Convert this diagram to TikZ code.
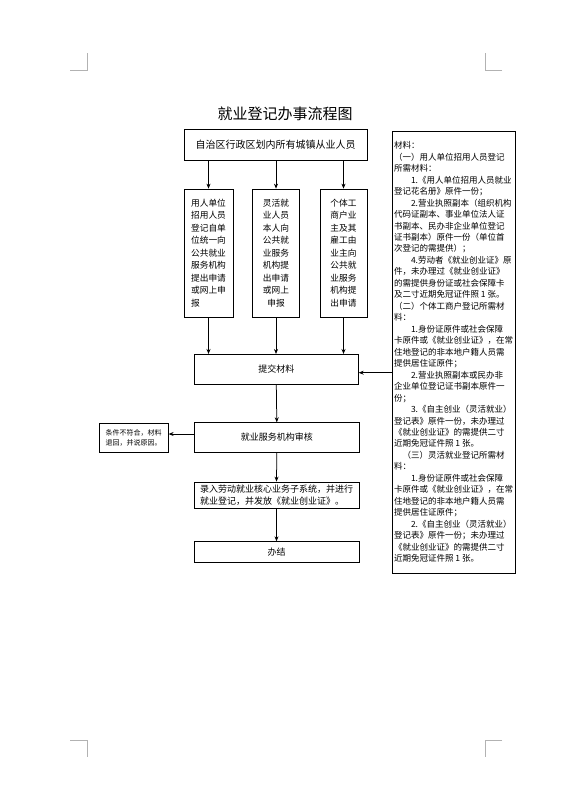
\documentclass[tikz,border=0pt]{standalone}
\usepackage{fontspec}
\setmainfont{Noto Sans CJK SC}
\usetikzlibrary{arrows.meta,calc}
\begin{document}
\begin{tikzpicture}[x=1pt,y=-1pt,
  box/.style={draw=black,line width=0.75pt,inner sep=0pt},
  arr/.style={-{Stealth[length=5pt,width=4pt]},line width=0.75pt},
  corner/.style={draw=black!30,line width=0.7pt}]
\useasboundingbox (0,0) rectangle (575,809);
\fill[white] (0,0) rectangle (575,809);
% corner marks
\draw[corner] (70,70) -- (87,70) -- (87,53);
\draw[corner] (502,70) -- (485,70) -- (485,53);
\draw[corner] (70,740) -- (87,740) -- (87,757);
\draw[corner] (502,740) -- (485,740) -- (485,757);
% title
\node[font=\fontsize{15}{18}\selectfont] (title) at (285,114) {就业登记办事流程图};
% top box
\node[box,minimum width=183pt,minimum height=31pt,font=\fontsize{10}{12}\selectfont] (top) at (275.5,144.5) {自治区行政区划内所有城镇从业人员};
% column boxes
\node[box,minimum width=49pt,minimum height=128pt,align=left,font=\fontsize{8.7}{12.5}\selectfont] (b1) at (208.5,253)
 {用人单位\\招用人员\\登记自单\\位统一向\\公共就业\\服务机构\\提出申请\\或网上申\\报};
\node[box,minimum width=47pt,minimum height=128pt,align=center,font=\fontsize{8.7}{12.5}\selectfont] (b2) at (276,253)
 {灵活就\\业人员\\本人向\\公共就\\业服务\\机构提\\出申请\\或网上\\申报};
\node[box,minimum width=47pt,minimum height=128pt,align=center,font=\fontsize{8.7}{12.5}\selectfont] (b3) at (343.5,253)
 {个体工\\商户业\\主及其\\雇工由\\业主向\\公共就\\业服务\\机构提\\出申请};
% process boxes
\node[box,minimum width=164pt,minimum height=29.7pt,font=\fontsize{9}{11}\selectfont] (submit) at (276.3,369.2) {提交材料};
\node[box,minimum width=165pt,minimum height=29.6pt,font=\fontsize{9}{11}\selectfont] (audit) at (276.8,437.5) {就业服务机构审核};
\node[box,minimum width=69.3pt,minimum height=29pt,align=left,font=\fontsize{7}{10.5}\selectfont] (note) at (133.6,437.8) {条件不符合，材料\\退回，并说原因。};
\node[box,minimum width=165pt,minimum height=26pt,align=left,font=\fontsize{9}{12}\selectfont] (entry) at (276.5,495) {录入劳动就业核心业务子系统，并进行\\就业登记，并发放《就业创业证》。};
\node[box,minimum width=165pt,minimum height=20.6pt,font=\fontsize{9}{11}\selectfont] (done) at (276.5,552) {办结};
% materials box
\node[box,minimum width=123pt,minimum height=442pt,align=left,font=\fontsize{8.5}{11.47}\selectfont] (mat) at (453.5,352) {材料：\\
（一）用人单位招用人员登记\\
所需材料：\\
\hspace*{2em}1.《用人单位招用人员就业\\
登记花名册》原件一份；\\
\hspace*{2em}2.营业执照副本（组织机构\\
代码证副本、事业单位法人证\\
书副本、民办非企业单位登记\\
证书副本）原件一份（单位首\\
次登记的需提供）；\\
\hspace*{2em}4.劳动者《就业创业证》原\\
件，未办理过《就业创业证》\\
的需提供身份证或社会保障卡\\
及二寸近期免冠证件照 1 张。\\
（二）个体工商户登记所需材\\
料：\\
\hspace*{2em}1.身份证原件或社会保障\\
卡原件或《就业创业证》，在常\\
住地登记的非本地户籍人员需\\
提供居住证原件；\\
\hspace*{2em}2.营业执照副本或民办非\\
企业单位登记证书副本原件一\\
份；\\
\hspace*{2em}3.《自主创业（灵活就业）\\
登记表》原件一份，未办理过\\
《就业创业证》的需提供二寸\\
近期免冠证件照 1 张。\\
\hspace*{1em}（三）灵活就业登记所需材\\
料：\\
\hspace*{2em}1.身份证原件或社会保障\\
卡原件或《就业创业证》，在常\\
住地登记的非本地户籍人员需\\
提供居住证原件；\\
\hspace*{2em}2.《自主创业（灵活就业）\\
登记表》原件一份；未办理过\\
《就业创业证》的需提供二寸\\
近期免冠证件照 1 张。};
% connectors
\draw[arr] (top.south -| b1) -- (b1.north);
\draw[arr] (top.south -| b2) -- (b2.north);
\draw[arr] (top.south -| b3) -- (b3.north);
\draw[arr] (b1.south) -- (submit.north -| b1.south);
\draw[arr] (b2.south) -- (submit.north -| b2.south);
\draw[arr] (b3.south) -- (submit.north -| b3.south);
\coordinate (se) at ($(submit.east)+(0,3.5)$);
\draw[arr] (mat.west |- se) -- (se);
\draw[arr] (submit.south) -- (audit.north);
\coordinate (aw) at ($(audit.west)+(0,-3.5)$);
\draw[arr] (aw) -- (note.east |- aw);
\draw[arr] (audit.south) -- (entry.north);
\draw[arr] (entry.south) -- (done.north);
\end{tikzpicture}
\end{document}
